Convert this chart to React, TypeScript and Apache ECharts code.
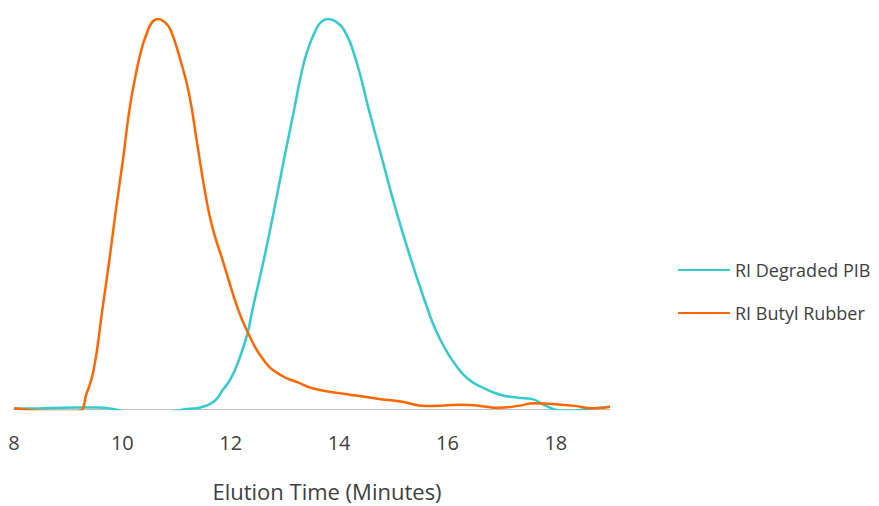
import React, { useEffect, useRef } from "react";
import * as echarts from "echarts";

const xTickLabels = ["8", "10", "12", "14", "16", "18"];

const pibTime = [8.0, 8.5, 8.92, 9.53, 9.9, 10.0, 10.5, 10.95, 11.2, 11.44, 11.69, 11.85, 12.0, 12.15, 12.31, 12.4, 12.61, 12.8, 12.98, 13.17, 13.29, 13.42, 13.57, 13.68, 13.8, 13.93, 14.09, 14.31, 14.55, 14.8, 15.05, 15.33, 15.64, 15.76, 15.94, 16.13, 16.37, 16.68, 16.99, 17.3, 17.55, 17.79, 18.04, 18.22, 18.59, 19.0];
const pibValue = [0.1, 0.2, 0.3, 0.4, -0.2, -0.7, -1.6, -0.6, 0.0, 0.4, 1.9, 4.8, 7.8, 12.5, 19.4, 25.4, 38.2, 51.0, 63.8, 76.7, 85.2, 92.1, 97.2, 99.4, 100, 99.4, 97.2, 89.5, 76.7, 63.8, 51.0, 38.2, 25.4, 21.0, 15.9, 11.7, 7.8, 5.3, 3.6, 2.9, 2.6, 1.0, -0.3, -0.5, 0.0, 0.6];

const butylTime = [8.0, 8.5, 8.9, 9.2, 9.34, 9.47, 9.63, 9.76, 9.88, 10.01, 10.13, 10.24, 10.35, 10.45, 10.55, 10.66, 10.78, 10.89, 11.07, 11.23, 11.38, 11.53, 11.66, 11.87, 12.12, 12.31, 12.61, 12.92, 13.23, 13.54, 14.15, 14.77, 15.14, 15.6, 15.95, 16.25, 16.6, 16.95, 17.3, 17.62, 18.0, 18.35, 18.68, 19.0];
const butylValue = [0.2, -0.5, -0.6, -0.5, 4.0, 10.0, 25.4, 38.2, 51.0, 63.8, 76.7, 85.2, 92.1, 96.3, 99.2, 100, 99.2, 97.2, 89.5, 80.9, 68.1, 55.3, 46.7, 37.3, 26.2, 19.8, 12.5, 8.7, 6.9, 5.2, 3.8, 2.5, 1.9, 0.8, 0.9, 1.1, 0.8, 0.3, 0.8, 1.5, 1.2, 0.8, 0.2, 0.6];

const seriesNames = ["RI Degraded PIB", "RI Butyl Rubber"];
const xTitle = "Elution Time (Minutes)";

const FONT = "'Open Sans', 'Noto Sans', sans-serif";

export default function App() {
  const ref = useRef<HTMLDivElement>(null);
  useEffect(() => {
    if (!ref.current) return;
    const chart = echarts.init(ref.current, undefined, { renderer: "svg" });
    const pib = pibTime.map((t, i) => [t, pibValue[i]]);
    const butyl = butylTime.map((t, i) => [t, butylValue[i]]);
    chart.setOption({
      animation: false,
      backgroundColor: "#ffffff",
      grid: { left: 14, right: 269, top: 19, bottom: 97, containLabel: false },
      xAxis: {
        type: "value",
        min: 8,
        max: 19,
        interval: 2,
        axisLine: { show: true, lineStyle: { color: "#BFBFBF", width: 1 } },
        axisTick: { show: false },
        splitLine: { show: false },
        axisLabel: {
          show: true,
          showMaxLabel: false,
          margin: 23,
          fontSize: 20,
          fontFamily: FONT,
          color: "#404040",
          formatter: (v: number) => (xTickLabels.includes(String(v)) ? String(v) : ""),
        },
      },
      yAxis: {
        type: "value",
        min: 0,
        max: 100,
        show: false,
        splitLine: { show: false },
      },
      legend: {
        orient: "vertical",
        left: 677,
        top: 261,
        padding: 0,
        itemWidth: 52,
        itemHeight: 18,
        itemGap: 25,
        itemStyle: { opacity: 0 },
        data: seriesNames,
        textStyle: { fontSize: 18, fontFamily: FONT, color: "#404040" },
      },
      graphic: [
        {
          type: "text",
          x: 327,
          y: 490.5,
          style: {
            text: xTitle,
            fontSize: 22,
            fontFamily: FONT,
            fill: "#404040",
            textAlign: "center",
            textVerticalAlign: "middle",
          },
        },
      ],
      series: [
        {
          name: seriesNames[0],
          type: "line",
          data: pib,
          smooth: 0.5,
          symbol: "none",
          clip: true,
          lineStyle: { color: "#33CCCC", width: 2.5 },
          itemStyle: { color: "#33CCCC" },
        },
        {
          name: seriesNames[1],
          type: "line",
          data: butyl,
          smooth: 0.5,
          symbol: "none",
          clip: true,
          lineStyle: { color: "#FF6600", width: 2.5 },
          itemStyle: { color: "#FF6600" },
        },
      ],
    });
    return () => chart.dispose();
  }, []);
  return (
    <div
      ref={ref}
      style={{ position: "fixed", left: 0, top: 0, width: 879, height: 506 }}
    />
  );
}
